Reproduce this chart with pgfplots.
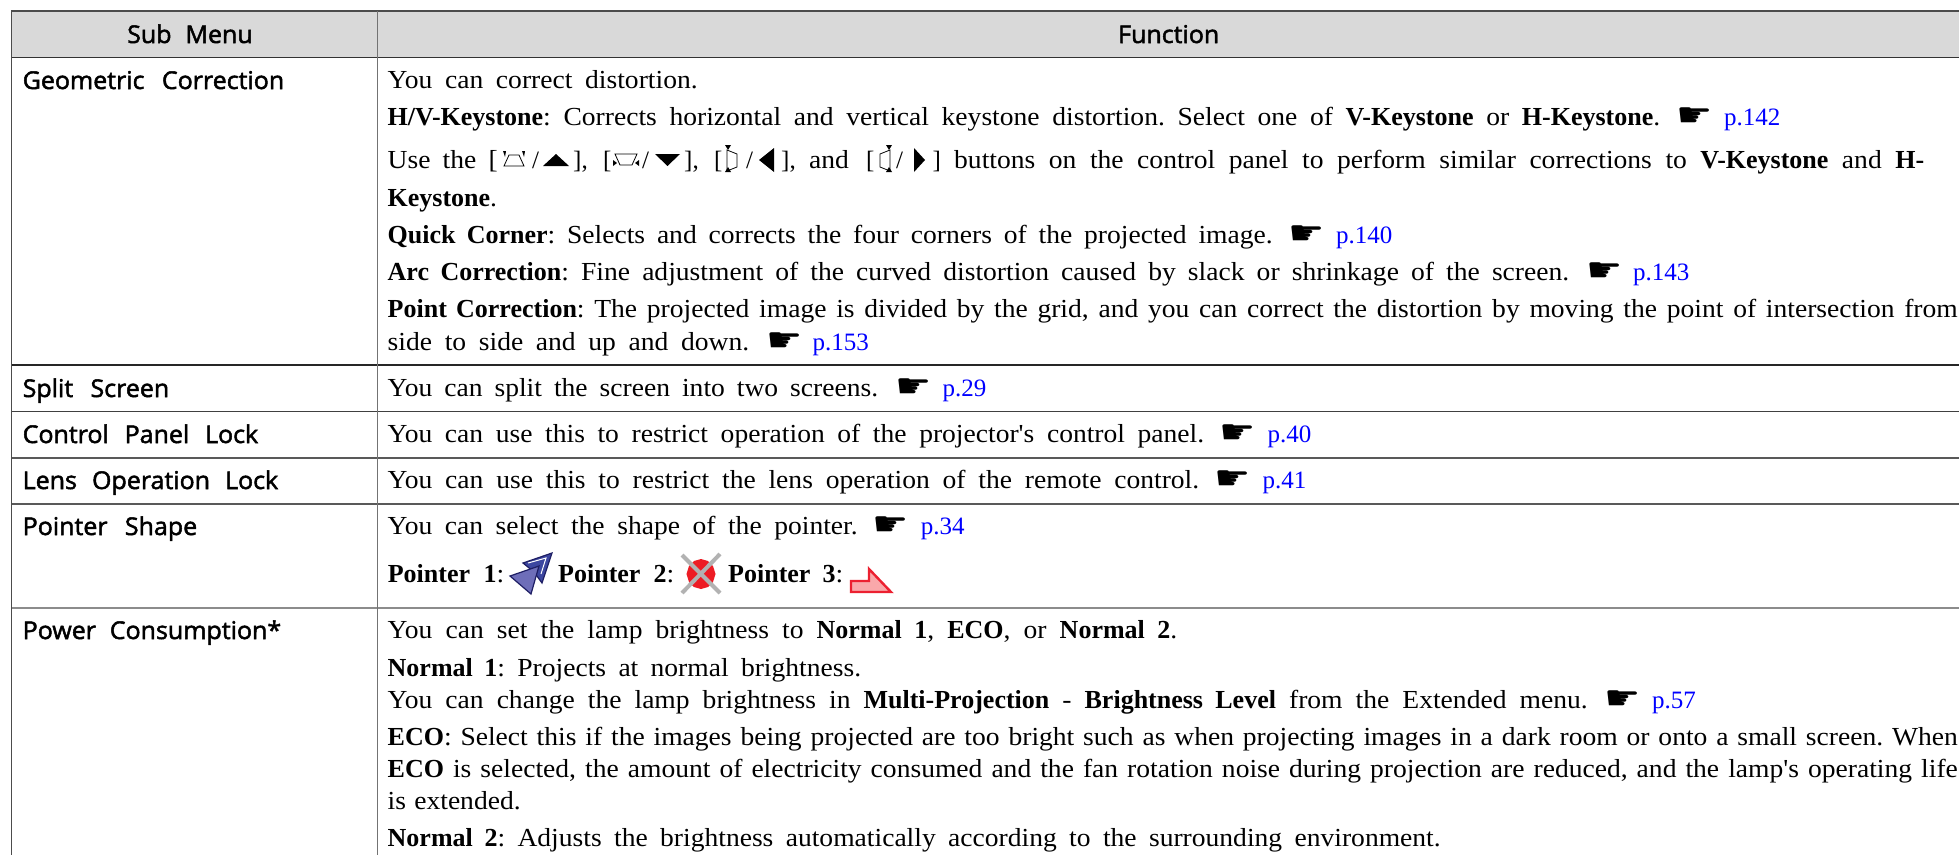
\documentclass[border=0pt]{standalone}
\usepackage{fontspec}
\usepackage{xcolor}
\usepackage{pgfplots}
\pgfplotsset{compat=1.18}
\setmainfont{Liberation Serif}[Ligatures=TeXOff,UprightFeatures={FakeStretch=1.06}]
\newfontfamily\linkf{Liberation Serif}
\newfontfamily\sansf[FakeBold=2,FakeStretch=1.02]{Open Sans}
\newfontfamily\symf{DejaVu Sans}
\frenchspacing
\definecolor{hdr}{HTML}{D9D9D9}
\definecolor{lnk}{HTML}{0000FF}
\newcommand\T[4]{\node[anchor=base west,inner sep=0pt,text=black] at (axis cs:#1,#2) {\fontsize{26}{30}\selectfont\makebox[#3pt][s]{#4}};}
\newcommand\TL[3]{\node[anchor=base west,inner sep=0pt,text=black] at (axis cs:#1,#2) {\linkf\fontsize{25}{30}\selectfont #3};}
\newcommand\Lk[4]{\node[anchor=base west,inner sep=0pt,text=lnk] at (axis cs:#1,#2) {\linkf\fontsize{25}{30}\selectfont\makebox[#3pt][s]{#4}};}
\newcommand\Hand[2]{\node[anchor=base west,inner sep=0pt,text=black] at (axis cs:#1,#2+2) {\symf\fontsize{30}{30}\selectfont\scalebox{1.35}[1.1]{☛}};}
\newcommand\Sb[4]{\node[anchor=base west,inner sep=0pt,text=black] at (axis cs:#1,#2) {\sansf\fontsize{24.5}{28}\selectfont\makebox[#3pt][s]{#4}};}
\begin{document}
\begin{tikzpicture}
\begin{axis}[hide axis,scale only axis,width=1959pt,height=855pt,xmin=0,xmax=1959,ymin=0,ymax=855,y dir=reverse,clip=true]
% page and header
\addplot[fill=white,draw=none] coordinates {(0,0)(1959,0)(1959,855)(0,855)} --cycle;
\addplot[fill=hdr,draw=none] coordinates {(11,11)(1959,11)(1959,57)(11,57)} --cycle;
% rules
\addplot[color=black!70,line width=1.6pt] coordinates {(11,11)(1959,11)};
\addplot[color=black!80,line width=1.4pt] coordinates {(11,57.5)(1959,57.5)};
\addplot[color=black!85,line width=1.3pt] coordinates {(11,365)(1959,365)};
\addplot[color=black!75,line width=1.3pt] coordinates {(11,411.5)(1959,411.5)};
\addplot[color=black!65,line width=2pt] coordinates {(11,458)(1959,458)};
\addplot[color=black!65,line width=2pt] coordinates {(11,504)(1959,504)};
\addplot[color=black!45,line width=2.2pt] coordinates {(11,608)(1959,608)};
\addplot[color=black!70,line width=1pt] coordinates {(11.5,11)(11.5,855)};
\addplot[color=black!55,line width=1pt] coordinates {(377,11)(377,855)};
% header and first column
\Sb{127}{43}{125.5}{Sub Menu}
\Sb{1118}{43}{104}{Function}
\Sb{22.5}{89}{261.5}{Geometric Correction}
\Sb{22.5}{397}{146.5}{Split Screen}
\Sb{22.5}{443}{235.5}{Control Panel Lock}
\Sb{22.5}{489}{255.5}{Lens Operation Lock}
\Sb{22.5}{535}{174.5}{Pointer Shape}
\Sb{22.5}{639}{258.5}{Power Consumption*}
% Geometric Correction
\T{387.5}{88}{310}{You can correct distortion.}
\T{387.5}{125}{1272.5}{\textbf{H/V-Keystone}: Corrects horizontal and vertical keystone distortion. Select one of \textbf{V-Keystone} or \textbf{H-Keystone}.}
\Hand{1676}{124}\Lk{1724}{125}{57}{p.142}
\T{387.5}{168}{110}{Use the [}
\TL{532}{168}{/}\TL{573}{168}{],}
\TL{603}{168}{[}\TL{642}{168}{/}\TL{684}{168}{],}
\TL{714}{168}{[}\TL{746}{168}{/}\TL{781}{168}{],}
\T{809}{168}{40}{and}
\TL{866}{168}{[}\TL{896}{168}{/}\TL{932.5}{168}{]}
\T{954}{168}{970}{buttons on the control panel to perform similar corrections to \textbf{V-Keystone} and \textbf{H-}}
% small keystone icons
\addplot[color=black,line width=0.8pt] coordinates {(509,155)(519,155)(524,166)(504,166)} --cycle;
\addplot[fill=black,draw=none] coordinates {(503,151)(506,151)(505,157)} --cycle;
\addplot[fill=black,draw=none] coordinates {(522,151)(525,151)(524,157)} --cycle;
\addplot[fill=black,draw=none] coordinates {(543,166)(569,166)(556,154)} --cycle;
\addplot[color=black,line width=0.8pt] coordinates {(615,154)(637,154)(632,165)(620,165)} --cycle;
\addplot[fill=black,draw=none] coordinates {(613,160)(613,166)(617,163)} --cycle;
\addplot[fill=black,draw=none] coordinates {(639,160)(639,166)(635,163)} --cycle;
\addplot[fill=black,draw=none] coordinates {(655,154)(680,154)(667.5,166)} --cycle;
\addplot[color=black,line width=0.8pt] coordinates {(727,150)(737,154)(737,167)(727,171)} --cycle;
\addplot[fill=black,draw=none] coordinates {(725,145)(731,145)(728,150)} --cycle;
\addplot[fill=black,draw=none] coordinates {(725,172)(731,172)(728,167)} --cycle;
\addplot[fill=black,draw=none] coordinates {(759,160)(774,148)(774,172)} --cycle;
\addplot[color=black,line width=0.8pt] coordinates {(880,154)(890,150)(890,171)(880,167)} --cycle;
\addplot[fill=black,draw=none] coordinates {(886,145)(892,145)(889,150)} --cycle;
\addplot[fill=black,draw=none] coordinates {(886,172)(892,172)(889,167)} --cycle;
\addplot[fill=black,draw=none] coordinates {(925,160)(914,148)(914,172)} --cycle;
\T{387.5}{206}{107.5}{\textbf{Keystone}.}
\T{387.5}{243}{885}{\textbf{Quick Corner}: Selects and corrects the four corners of the projected image.}
\Hand{1288}{242}\Lk{1336}{243}{58}{p.140}
\T{387.5}{280}{1181.5}{\textbf{Arc Correction}: Fine adjustment of the curved distortion caused by slack or shrinkage of the screen.}
\Hand{1586}{279}\Lk{1633}{280}{58}{p.143}
\T{387.5}{317}{1570}{\textbf{Point Correction}: The projected image is divided by the grid, and you can correct the distortion by moving the point of intersection from}
\T{387.5}{350}{361.5}{side to side and up and down.}
\Hand{766}{349}\Lk{812.5}{350}{58.5}{p.153}
% single-line rows
\T{387.5}{396}{490.5}{You can split the screen into two screens.}
\Hand{895}{395}\Lk{942.5}{396}{44}{p.29}
\T{387.5}{442}{816.5}{You can use this to restrict operation of the projector's control panel.}
\Hand{1219}{441}\Lk{1267.5}{442}{45.5}{p.40}
\T{387.5}{488}{811.5}{You can use this to restrict the lens operation of the remote control.}
\Hand{1214}{487}\Lk{1262.5}{488}{44}{p.41}
% Pointer Shape
\T{387.5}{534}{470}{You can select the shape of the pointer.}
\Hand{872.5}{533}\Lk{920.6}{534}{45.5}{p.34}
\T{387.6}{582}{116.4}{\textbf{Pointer 1}:}
\T{558}{582}{116}{\textbf{Pointer 2}:}
\T{728}{582}{115}{\textbf{Pointer 3}:}
% pointer 1
\addplot[fill={rgb,255:red,60;green,70;blue,160},draw={rgb,255:red,30;green,30;blue,100},line width=1.2pt] coordinates {(523,563)(552,553)(542,583)(534,572)} --cycle;
\addplot[color=white,line width=1pt] coordinates {(528,563)(546,558)(541,574)};
\addplot[fill={rgb,255:red,110;green,110;blue,185},draw={rgb,255:red,30;green,30;blue,100},line width=1.2pt] coordinates {(510,576)(539,566)(531,594)} --cycle;
% pointer 2
\addplot[fill={rgb,255:red,237;green,28;blue,36},draw=none] coordinates {(701,559)(708,561)(713,566)(715.5,574)(713,582)(708,587)(701,589)(694,587)(689,582)(686.5,574)(689,566)(694,561)} --cycle;
\addplot[color=black!30,line width=4pt] coordinates {(682,593)(720,554)};
\addplot[color=black!30,line width=4pt] coordinates {(682,555)(720,593)};
% pointer 3
\addplot[fill={rgb,255:red,249;green,168;blue,170},draw={rgb,255:red,236;green,32;blue,48},line width=2.4pt] coordinates {(851,581)(869,581)(869,569)(891,592)(851,592)} --cycle;
% Power Consumption
\T{387.5}{638}{789.5}{You can set the lamp brightness to \textbf{Normal 1}, \textbf{ECO}, or \textbf{Normal 2}.}
\T{387.5}{676}{473.5}{\textbf{Normal 1}: Projects at normal brightness.}
\T{387.5}{708}{1200}{You can change the lamp brightness in \textbf{Multi-Projection} - \textbf{Brightness Level} from the Extended menu.}
\Hand{1604}{707}\Lk{1652}{708}{44}{p.57}
\T{387.5}{745}{1570}{\textbf{ECO}: Select this if the images being projected are too bright such as when projecting images in a dark room or onto a small screen. When}
\T{387.5}{777}{1570}{\textbf{ECO} is selected, the amount of electricity consumed and the fan rotation noise during projection are reduced, and the lamp's operating life}
\T{387.5}{809}{133}{is extended.}
\T{387.5}{846}{1053}{\textbf{Normal 2}: Adjusts the brightness automatically according to the surrounding environment.}
\end{axis}
\end{tikzpicture}
\end{document}
